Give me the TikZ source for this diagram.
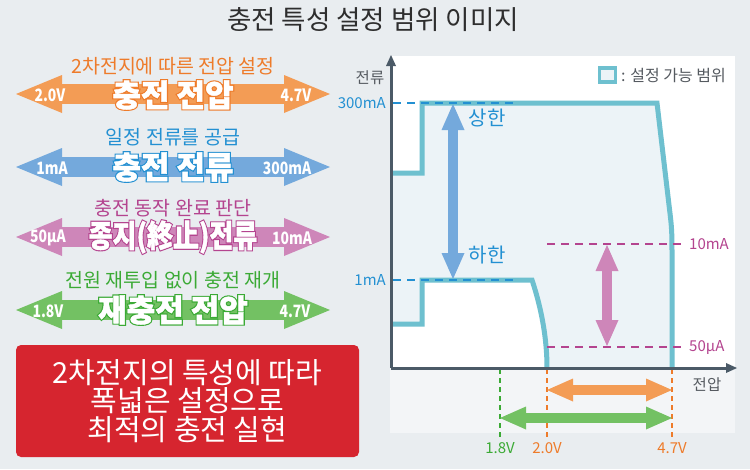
\documentclass[tikz,border=0pt]{standalone}
\usepackage{fontspec}
\setmainfont{Noto Sans CJK KR}
\newfontfamily\outlinefont{Noto Sans CJK KR}[BoldFeatures={FakeBold=9}]
\newfontfamily\heavyfont{Noto Sans CJK KR}[BoldFeatures={FakeBold=1.5}]
\usetikzlibrary{arrows.meta}
\definecolor{bgc}{HTML}{E9EDF0}
\definecolor{lowpanel}{HTML}{F3F5F7}
\definecolor{region}{HTML}{ECF3F7}
\definecolor{teal}{HTML}{6EC0CF}
\definecolor{axisc}{HTML}{4B5A67}
\definecolor{oarr}{HTML}{F39C55}
\definecolor{otxt}{HTML}{EE7B2A}
\definecolor{barr}{HTML}{74A9DC}
\definecolor{btxt}{HTML}{2390D2}
\definecolor{parr}{HTML}{CE86B9}
\definecolor{ptxt}{HTML}{B4448F}
\definecolor{garr}{HTML}{73C163}
\definecolor{gtxt}{HTML}{3BAA35}
\definecolor{redbox}{HTML}{D6252F}
\definecolor{titlec}{HTML}{2E2E2E}
\definecolor{grayt}{HTML}{555A60}
\tikzset{
  sub/.style={font=\fontsize{19.5}{21}\selectfont, inner sep=0pt},
  endlbl/.style={font=\fontsize{17}{19}\selectfont\bfseries, text=white, inner sep=0pt},
  mainback/.style={font=\fontsize{31}{34}\selectfont\outlinefont\bfseries, inner sep=0pt},
  mainfront/.style={font=\fontsize{31}{34}\selectfont\heavyfont\bfseries, inner sep=0pt, text=white},
  bigarr/.style={line width=20pt, {Triangle[length=46pt,width=38pt,line width=0pt]}-{Triangle[length=46pt,width=38pt,line width=0pt]}},
  smallarr/.style={line width=10pt, {Triangle[length=26pt,width=23pt,line width=0pt]}-{Triangle[length=26pt,width=23pt,line width=0pt]}},
  chartlbl/.style={font=\fontsize{15}{17}\selectfont, inner sep=0pt},
  hdash/.style={line width=2pt, dash pattern=on 8pt off 6pt},
  vdash/.style={line width=2pt, dash pattern=on 5pt off 4pt},
  outline/.style={draw=teal, line width=5pt, line join=miter},
  axisline/.style={draw=axisc, line width=3pt, -{Triangle[length=11pt,width=10pt,line width=0pt]}},
}
\newcommand\narrow[1]{\scalebox{0.82}[1]{#1}}
\begin{document}
\begin{tikzpicture}[x=1pt,y=-1pt]
\useasboundingbox (0,0) rectangle (750,469);
\fill[bgc] (0,0) rectangle (750,469);
% title
\node[font=\fontsize{26.5}{28}\selectfont, text=titlec, inner sep=0pt] (title) at (373,20) {충전 특성 설정 범위 이미지};

% ---------- left side ----------
\node[sub, text=otxt] (osub) at (173,66) {2차전지에 따른 전압 설정};
\coordinate (oL) at (16,94); \coordinate (oR) at (330,94);
\draw[bigarr, oarr] (oL) -- (oR);
\node[endlbl] (ov1) at (50,95) {\narrow{2.0V}};
\node[endlbl] (ov2) at (296,95) {\narrow{4.7V}};
\node[mainback, text=otxt] (omainb) at (173,95) {충전 전압};
\node[mainfront] (omain) at (173,95) {충전 전압};

\node[sub, text=btxt] (bsub) at (173,137) {일정 전류를 공급};
\coordinate (bL) at (16,167); \coordinate (bR) at (330,167);
\draw[bigarr, barr] (bL) -- (bR);
\node[endlbl] (bv1) at (52,168) {\narrow{1mA}};
\node[endlbl] (bv2) at (287,168) {\narrow{300mA}};
\node[mainback, text=btxt] (bmainb) at (173,167) {충전 전류};
\node[mainfront] (bmain) at (173,167) {충전 전류};

\node[sub, text=ptxt] (psub) at (173,208) {충전 동작 완료 판단};
\coordinate (pL) at (16,237); \coordinate (pR) at (330,237);
\draw[bigarr, parr] (pL) -- (pR);
\node[endlbl] (pv1) at (48,238) {\narrow{50µA}};
\node[endlbl] (pv2) at (292,238) {\narrow{10mA}};
\node[mainback, text=ptxt, xscale=0.84] (pmainb) at (173,237) {종지(終止)전류};
\node[mainfront, xscale=0.84] (pmain) at (173,237) {종지(終止)전류};

\node[sub, text=gtxt] (gsub) at (173,280) {전원 재투입 없이 충전 재개};
\coordinate (gL) at (16,310); \coordinate (gR) at (330,310);
\draw[bigarr, garr] (gL) -- (gR);
\node[endlbl] (gv1) at (48,311) {\narrow{1.8V}};
\node[endlbl] (gv2) at (295,311) {\narrow{4.7V}};
\node[mainback, text=gtxt] (gmainb) at (173,310) {재충전 전압};
\node[mainfront] (gmain) at (173,310) {재충전 전압};

\node[fill=redbox, rounded corners=5pt, minimum width=343pt, minimum height=112pt, inner sep=0pt,
  text=white, align=center, font=\fontsize{29}{28.5}\selectfont] (msg) at (187.5,401)
  {2차전지의 특성에 따라\\폭넓은 설정으로\\최적의 충전 실현};

% ---------- chart ----------
\fill[white] (390,56) rectangle (735,368);
\fill[lowpanel] (390,368) rectangle (735,433);
% settable region
\fill[region] (391,173) -- (422,173) -- (422,103) -- (657,103) -- (669,205) .. controls (672,230) .. (672,260) -- (672,368)
  -- (547,368) .. controls (547,340) and (542,310) .. (532,280) -- (422,280) -- (422,324) -- (391,324) -- cycle;
% dashed guides
\coordinate (d300a) at (393,103); \coordinate (d300b) at (515,103);
\coordinate (d1a) at (393,280); \coordinate (d1b) at (515,280);
\coordinate (d10a) at (547,244); \coordinate (d10b) at (684,244);
\coordinate (d50a) at (547,347); \coordinate (d50b) at (684,347);
% outlines
\draw[outline] (391,173) -- (422,173) -- (422,103) -- (657,103) -- (669,205) .. controls (672,230) .. (672,260) -- (672,368);
\draw[outline] (391,324) -- (422,324) -- (422,280) -- (532,280) .. controls (542,310) and (547,340) .. (547,368);
\draw[hdash, btxt] (d300a) -- (d300b);
\draw[hdash, btxt] (d1a) -- (d1b);
\draw[hdash, ptxt] (d10a) -- (d10b);
\draw[hdash, ptxt] (d50a) -- (d50b);
% vertical dashed under axis
\coordinate (v18a) at (500,369); \coordinate (v18b) at (500,438);
\coordinate (v20a) at (547,369); \coordinate (v20b) at (547,438);
\coordinate (v47a) at (672,369); \coordinate (v47b) at (672,438);
\draw[vdash, gtxt] (v18a) -- (v18b);
\draw[vdash, otxt] (v20a) -- (v20b);
\draw[vdash, otxt] (v47a) -- (v47b);
% axes
\coordinate (origin) at (391,368);
\coordinate (ytop) at (391,55);
\coordinate (xend) at (737,368);
\draw[axisline] (origin) -- (ytop);
\draw[axisline] (origin) -- (xend);
% chart arrows
\coordinate (ba1) at (453,104); \coordinate (ba2) at (453,279);
\draw[smallarr, barr] (ba1) -- (ba2);
\coordinate (pa1) at (607,245); \coordinate (pa2) at (607,346);
\draw[smallarr, parr] (pa1) -- (pa2);
\coordinate (oa1) at (547,390); \coordinate (oa2) at (672,390);
\draw[smallarr, oarr] (oa1) -- (oa2);
\coordinate (ga1) at (500,418); \coordinate (ga2) at (672,418);
\draw[smallarr, garr] (ga1) -- (ga2);
% labels
\node[chartlbl, text=grayt, font=\fontsize{15.5}{17}\selectfont] (ylab) at (370,78) {전류};
\node[chartlbl, text=grayt, font=\fontsize{15.5}{17}\selectfont] (xlab) at (707,385) {전압};
\node[chartlbl, text=btxt, anchor=east] (l300) at (386,103) {300mA};
\node[chartlbl, text=btxt, anchor=east] (l1) at (386,280) {1mA};
\node[chartlbl, text=ptxt, anchor=west] (l10) at (689,244) {10mA};
\node[chartlbl, text=ptxt, anchor=west] (l50) at (689,347) {50µA};
\node[chartlbl, text=btxt, font=\fontsize{20}{22}\selectfont] (upper) at (487,118) {상한};
\node[chartlbl, text=btxt, font=\fontsize{20}{22}\selectfont] (lower) at (487,255) {하한};
\node[chartlbl, text=gtxt] (b18) at (500,448) {1.8V};
\node[chartlbl, text=otxt] (b20) at (547,448) {2.0V};
\node[chartlbl, text=otxt] (b47) at (672,448) {4.7V};
% legend
\node[draw=teal, line width=3.5pt, fill=region, minimum width=16pt, minimum height=14pt, inner sep=0pt] (legbox) at (607.5,75) {};
\node[chartlbl, text=grayt, anchor=west, font=\fontsize{16}{18}\selectfont] (legtxt) at (621,76) {: 설정 가능 범위};
\end{tikzpicture}
\end{document}
